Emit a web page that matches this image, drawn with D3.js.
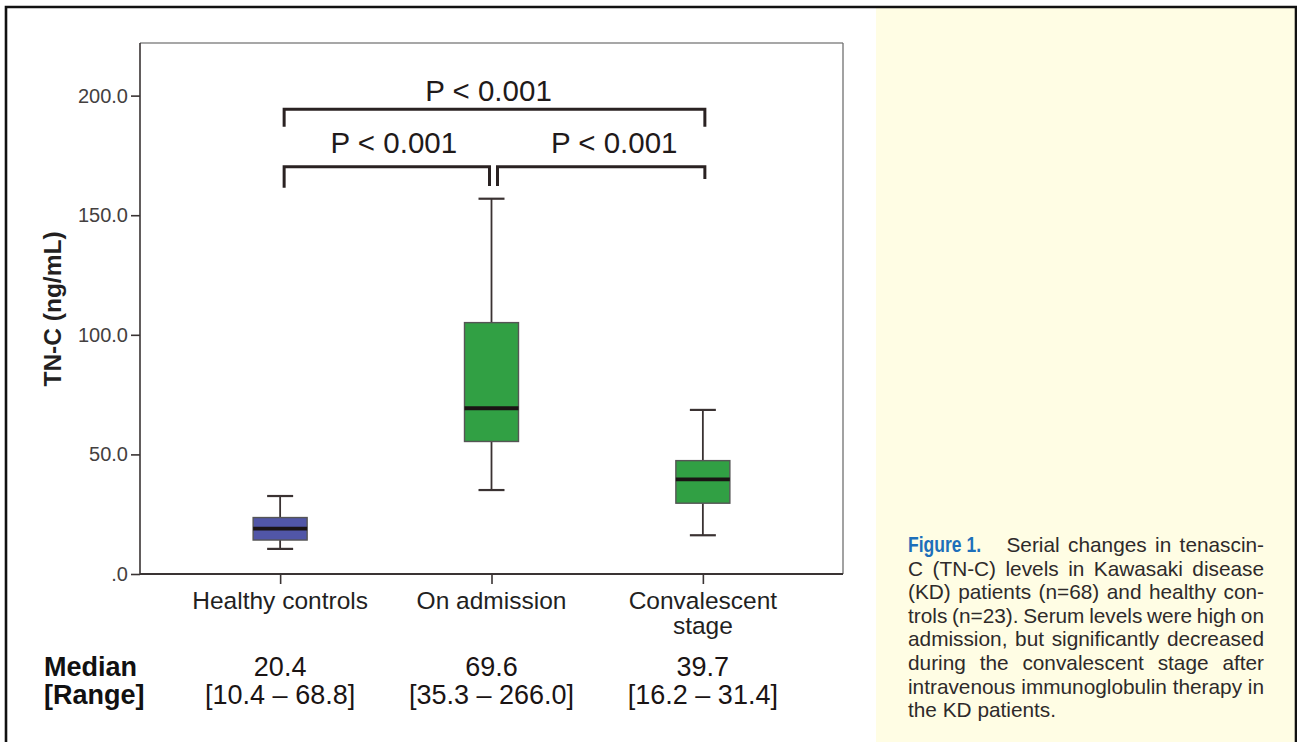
<!DOCTYPE html>
<html>
<head>
<meta charset="utf-8">
<script src="https://cdn.jsdelivr.net/npm/d3@7"></script>
<style>
  html, body { margin: 0; padding: 0; background: #ffffff; }
  svg { display: block; }
</style>
</head>
<body>
<svg id="chart" width="1297" height="742"></svg>
<script>
// ---------------- DATA ----------------
const categories = ["Healthy controls", "On admission", "Convalescent stage"];
const categoryLabelLines = [["Healthy controls"], ["On admission"], ["Convalescent", "stage"]];
const whiskerLow  = [10.5, 35.1, 16.2];
const quartile1   = [14.2, 55.4, 29.6];
const medians     = [19.0, 69.3, 39.6];
const quartile3   = [23.6, 105.1, 47.4];
const whiskerHigh = [32.6, 156.9, 68.6];
const boxColors   = ["#5156a7", "#31a044", "#31a044"];

const yTickValues = [0, 50, 100, 150, 200];
const yTickLabels = [".0", "50.0", "100.0", "150.0", "200.0"];
const yDomain = [0, 222];
const yTitle = "TN-C (ng/mL)";

// significance brackets: group indices, bar level and leg ends (in y units)
const bracketFrom     = [0, 1, 0];
const bracketTo       = [1, 2, 2];
const bracketBar      = [170.3, 170.3, 194.3];
const bracketLegLeft  = [161.5, 162.2, 187.0];
const bracketLegRight = [162.2, 165.1, 187.0];
const bracketLabels   = ["P < 0.001", "P < 0.001", "P < 0.001"];

const tableRowHeaders = ["Median", "[Range]"];
const medianTexts = ["20.4", "69.6", "39.7"];
const rangeTexts  = ["[10.4 \u2013 68.8]", "[35.3 \u2013 266.0]", "[16.2 \u2013 31.4]"];

const captionTitle = "Figure 1.";
const captionLines = [
  "Serial changes in tenascin-",
  "C (TN-C) levels in Kawasaki disease",
  "(KD) patients (n=68) and healthy con-",
  "trols (n=23). Serum levels were high on",
  "admission, but significantly decreased",
  "during the convalescent stage after",
  "intravenous immunoglobulin therapy in",
  "the KD patients."
];

// ---------------- LAYOUT ----------------
const plot = { left: 140, right: 843, top: 43, bottom: 574 };
const FONT = "'Liberation Sans', Arial, Helvetica, sans-serif";
const svg = d3.select("#chart");

// outer frame + caption panel
svg.append("rect").attr("x", 0).attr("y", 0).attr("width", 1297).attr("height", 742).attr("fill", "#fff");
svg.append("rect").attr("x", 876).attr("y", 8).attr("width", 419).attr("height", 740).attr("fill", "#fffde4");
svg.append("path")
  .attr("d", "M6,760 V7 H1296 V760")
  .attr("fill", "none").attr("stroke", "#111").attr("stroke-width", 2.6);

const x = d3.scalePoint().domain(categories).range([plot.left, plot.right]).padding(0.663);
const y = d3.scaleLinear().domain(yDomain).range([plot.bottom, plot.top]);

// plot frame (top/right lighter)
svg.append("line").attr("x1", plot.left).attr("x2", plot.right).attr("y1", plot.top).attr("y2", plot.top)
  .attr("stroke", "#8a8a8a").attr("stroke-width", 1.3);
svg.append("line").attr("x1", plot.right).attr("x2", plot.right).attr("y1", plot.top).attr("y2", plot.bottom)
  .attr("stroke", "#707070").attr("stroke-width", 1.3);

// y axis
const yAxis = d3.axisLeft(y).tickValues(yTickValues)
  .tickFormat((d, i) => yTickLabels[i]).tickSize(9).tickPadding(3);
const gy = svg.append("g").attr("transform", `translate(${plot.left},0)`).call(yAxis);
gy.select(".domain").attr("stroke", "#3a3434").attr("stroke-width", 1.6).attr("d", `M0,${plot.top}V${plot.bottom}`);
gy.selectAll(".tick line").attr("stroke", "#3a3434").attr("stroke-width", 1.6);
gy.selectAll(".tick text").attr("font-family", FONT).attr("font-size", 20).attr("fill", "#444040");

// x axis
const xAxis = d3.axisBottom(x).tickSize(10).tickFormat("");
const gx = svg.append("g").attr("transform", `translate(0,${plot.bottom})`).call(xAxis);
gx.select(".domain").attr("stroke", "#3a3434").attr("stroke-width", 1.8).attr("d", `M${plot.left},0H${plot.right}`);
gx.selectAll(".tick line").attr("stroke", "#3a3434").attr("stroke-width", 1.6);

// category labels
categories.forEach((c, i) => {
  const t = svg.append("text").attr("x", x(c)).attr("y", 609)
    .attr("text-anchor", "middle").attr("font-family", FONT).attr("font-size", 24.5).attr("fill", "#231f1f");
  categoryLabelLines[i].forEach((ln, j) => {
    t.append("tspan").attr("x", x(c)).attr("dy", j === 0 ? 0 : 25).text(ln);
  });
});

// y title
svg.append("text")
  .attr("transform", `translate(61,309) rotate(-90)`)
  .attr("text-anchor", "middle").attr("font-family", FONT).attr("font-weight", "bold")
  .attr("font-size", 24.5).attr("fill", "#231f1f").text(yTitle);

// boxes
const boxW = 54, capW = 26;
const g = svg.append("g");
categories.forEach((c, i) => {
  const cx = x(c);
  g.append("line").attr("x1", cx).attr("x2", cx).attr("y1", y(whiskerHigh[i])).attr("y2", y(quartile3[i]))
    .attr("stroke", "#3a3232").attr("stroke-width", 1.8);
  g.append("line").attr("x1", cx).attr("x2", cx).attr("y1", y(quartile1[i])).attr("y2", y(whiskerLow[i]))
    .attr("stroke", "#3a3232").attr("stroke-width", 1.8);
  [whiskerHigh[i], whiskerLow[i]].forEach(v => {
    g.append("line").attr("x1", cx - capW / 2).attr("x2", cx + capW / 2).attr("y1", y(v)).attr("y2", y(v))
      .attr("stroke", "#3a3232").attr("stroke-width", 2.2);
  });
  g.append("rect").attr("x", cx - boxW / 2).attr("y", y(quartile3[i]))
    .attr("width", boxW).attr("height", y(quartile1[i]) - y(quartile3[i]))
    .attr("fill", boxColors[i]).attr("stroke", "#555").attr("stroke-width", 1.4);
  g.append("line").attr("x1", cx - boxW / 2).attr("x2", cx + boxW / 2).attr("y1", y(medians[i])).attr("y2", y(medians[i]))
    .attr("stroke", "#1a1414").attr("stroke-width", 3.8);
});

// brackets
const labelDx = [7, 13, -6];
const labelDy = [13.5, 13.5, 8.5];
bracketFrom.forEach((f, i) => {
  const x1 = x(categories[f]) + 4;
  const x2 = x(categories[bracketTo[i]]) + (bracketTo[i] === 1 ? -2 : 2);
  const xa = f === 1 ? x(categories[f]) + 6 : x1;
  svg.append("path")
    .attr("d", `M${xa},${y(bracketLegLeft[i])}V${y(bracketBar[i])}H${x2}V${y(bracketLegRight[i])}`)
    .attr("fill", "none").attr("stroke", "#2a2222").attr("stroke-width", 3);
  svg.append("text").attr("x", (xa + x2) / 2 + labelDx[i]).attr("y", y(bracketBar[i]) - labelDy[i])
    .attr("text-anchor", "middle").attr("font-family", FONT).attr("font-size", 29.5).attr("fill", "#1f1a1a")
    .text(bracketLabels[i]);
});

// table under plot
svg.append("text").attr("x", 44).attr("y", 676).attr("font-family", FONT).attr("font-weight", "bold")
  .attr("font-size", 27).attr("fill", "#111").text(tableRowHeaders[0]);
svg.append("text").attr("x", 44).attr("y", 704).attr("font-family", FONT).attr("font-weight", "bold")
  .attr("font-size", 27).attr("fill", "#111").text(tableRowHeaders[1]);
categories.forEach((c, i) => {
  svg.append("text").attr("x", x(c)).attr("y", 676).attr("text-anchor", "middle").attr("font-family", FONT)
    .attr("font-size", 27).attr("fill", "#1a1414").text(medianTexts[i]);
  svg.append("text").attr("x", x(c)).attr("y", 704).attr("text-anchor", "middle").attr("font-family", FONT)
    .attr("font-size", 27).attr("fill", "#1a1414").text(rangeTexts[i]);
});

// caption (justified)
const capLeft = 908, capRight = 1264, capTop = 552, capLead = 23.6, capSize = 20.8;
svg.append("text").attr("x", capLeft).attr("y", capTop)
  .attr("font-family", "'Liberation Sans Narrow', 'Arial Narrow', " + FONT).attr("font-weight", "bold")
  .attr("font-size", 22).attr("fill", "#1d6fba")
  .attr("textLength", 73).attr("lengthAdjust", "spacingAndGlyphs").text(captionTitle);

captionLines.forEach((ln, i) => {
  const start = i === 0 ? 1006.5 : capLeft;
  const yy = capTop + i * capLead;
  const words = ln.split(" ");
  const isLast = i === captionLines.length - 1;
  const nodes = words.map(w => svg.append("text").attr("y", yy).attr("font-family", FONT)
    .attr("font-size", capSize).attr("fill", "#2e2a2a").text(w));
  const widths = nodes.map(n => n.node().getComputedTextLength());
  const total = d3.sum(widths);
  let spaceW = isLast ? capSize * 0.278 : (capRight - start - total) / (words.length - 1);
  let scale = 1;
  if (spaceW < 3) { scale = (capRight - start - 3 * (words.length - 1)) / total; spaceW = 3; }
  let cx = start;
  nodes.forEach((n, k) => {
    const w = widths[k] * scale;
    n.attr("x", cx);
    if (scale !== 1) n.attr("textLength", w).attr("lengthAdjust", "spacingAndGlyphs");
    cx += w + spaceW;
  });
});
</script>
</body>
</html>
